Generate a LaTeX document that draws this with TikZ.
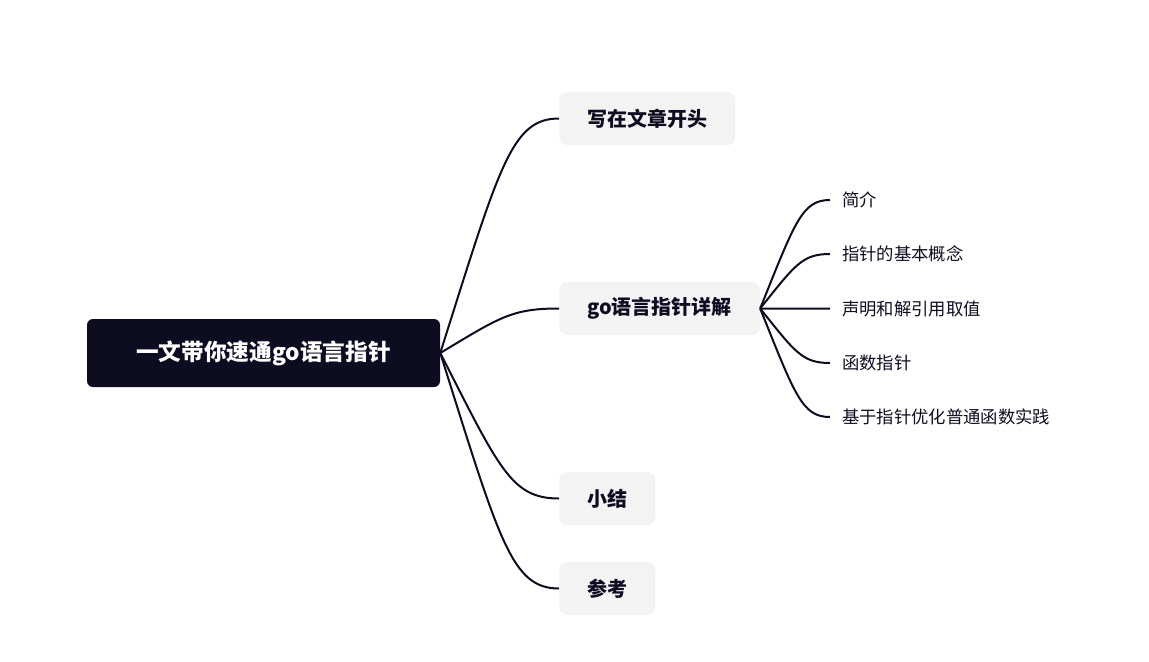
\documentclass[tikz,border=0pt]{standalone}
\usepackage{fontspec}
\setmainfont{Noto Sans CJK SC}
\usetikzlibrary{calc}
\definecolor{navy}{RGB}{14,12,32}
\definecolor{pale}{RGB}{243,243,243}
\tikzset{%
    root/.style={rectangle, fill=navy, rounded corners=4.5pt, text=white, font=\fontsize{17}{20}\selectfont\bfseries, minimum width=264.75pt, minimum height=51pt},
    topic/.style={rectangle, fill=pale, rounded corners=6pt, text=navy, font=\fontsize{15}{18}\selectfont\bfseries, inner xsep=21pt, minimum height=39.75pt, anchor=west},
    leaf/.style={rectangle, text=navy, font=\fontsize{13}{16}\selectfont, inner xsep=9pt, anchor=west},
    branch/.style={draw=navy, line width=1.5pt, to path={let \p1=(\tikztostart), \p2=(\tikztotarget) in .. controls ({0.5*\x1+0.5*\x2},{0.2*\y1+0.8*\y2}) and ({0.4*\x1+0.6*\x2},\y2) .. (\tikztotarget)}}
}

\begin{document}
\begin{tikzpicture}[x=0.75pt,y=-0.75pt]
		\useasboundingbox (0,0) rectangle (1149,661);

		\node[root]                     (main)    at (263.5,353)  {一文带你速通go语言指针};
		\node[topic]                    (opening) at (559,118.5)  {写在文章开头};
		\node[topic]                    (detail)  at (559,308.5)  {go语言指针详解};
		\node[topic]                    (summary) at (559,498.5)  {小结};
		\node[topic]                    (refs)    at (559,588.5)  {参考};

		\node[leaf]                     (intro)   at (830,200)    {简介};
		\node[leaf]                     (concept) at (830,254)    {指针的基本概念};
		\node[leaf]                     (deref)   at (830,308.5)  {声明和解引用取值};
		\node[leaf]                     (funcptr) at (830,363)    {函数指针};
		\node[leaf]                     (practice) at (830,417)   {基于指针优化普通函数实践};

		\path
		(main.east)    edge [branch]    (opening.west)
		(main.east)    edge [branch]    (detail.west)
		(main.east)    edge [branch]    (summary.west)
		(main.east)    edge [branch]    (refs.west)
		(detail.east)  edge [branch]    (intro.west)
		(detail.east)  edge [branch]    (concept.west)
		(detail.east)  edge [branch]    (deref.west)
		(detail.east)  edge [branch]    (funcptr.west)
		(detail.east)  edge [branch]    (practice.west);
	\end{tikzpicture}
\end{document}
